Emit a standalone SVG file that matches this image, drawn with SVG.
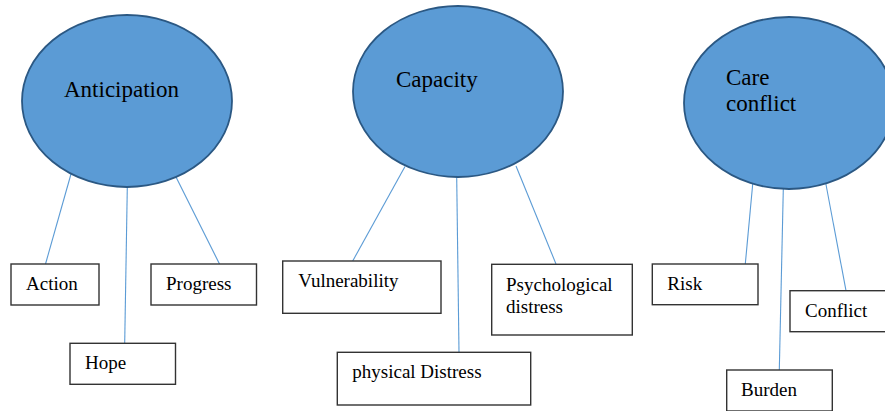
<svg xmlns="http://www.w3.org/2000/svg" width="885" height="411" viewBox="0 0 885 411">
<style>
.ell{fill:#5b9bd5;stroke:#2b5883;stroke-width:1.8}
.box{fill:#fff;stroke:#333;stroke-width:1.4}
.big{font-family:"Liberation Serif","Times New Roman",serif;font-size:23px;fill:#000}
.sm{font-family:"Liberation Serif","Times New Roman",serif;font-size:19px;fill:#000}
.con line{stroke:#5b9bd5;stroke-width:1.1}
</style>
<rect width="885" height="411" fill="#fff"/>
<g id="connectors" class="con">
<line x1="71" y1="174" x2="45.5" y2="264"/>
<line x1="127.3" y1="187" x2="124.7" y2="343"/>
<line x1="176" y1="177" x2="219.5" y2="264"/>
<line x1="405" y1="166.5" x2="352.7" y2="261"/>
<line x1="456.7" y1="177" x2="459" y2="352"/>
<line x1="516" y1="166" x2="556" y2="264"/>
<line x1="752.7" y1="184" x2="745.3" y2="264"/>
<line x1="783.3" y1="189" x2="779.3" y2="370"/>
<line x1="825.7" y1="183" x2="846" y2="290.7"/>
</g>
<g id="anticipation">
<ellipse class="ell" cx="127" cy="101" rx="105" ry="86"/>
<text class="big" x="64" y="97">Anticipation</text>
</g>
<g id="capacity">
<ellipse class="ell" cx="458" cy="91.5" rx="105" ry="85.5"/>
<text class="big" x="396" y="87">Capacity</text>
</g>
<g id="care-conflict">
<ellipse class="ell" cx="789" cy="103" rx="105" ry="86"/>
<text class="big" x="726" y="85">Care</text>
<text class="big" x="726" y="111">conflict</text>
</g>
<g id="action">
<rect class="box" x="11" y="264" width="88" height="41"/>
<text class="sm" x="26" y="290">Action</text>
</g>
<g id="progress">
<rect class="box" x="151" y="264" width="105.5" height="41"/>
<text class="sm" x="166" y="290">Progress</text>
</g>
<g id="hope">
<rect class="box" x="70" y="343.3" width="105.5" height="41"/>
<text class="sm" x="85" y="369">Hope</text>
</g>
<g id="vulnerability">
<rect class="box" x="282.7" y="261" width="158.3" height="52.3"/>
<text class="sm" x="298.3" y="287">Vulnerability</text>
</g>
<g id="psychological-distress">
<rect class="box" x="491.7" y="264.3" width="140.6" height="70.7"/>
<text class="sm" x="506" y="291">Psychological</text>
<text class="sm" x="506" y="312.5">distress</text>
</g>
<g id="physical-distress">
<rect class="box" x="337.3" y="352.3" width="193.4" height="52.7"/>
<text class="sm" x="352.3" y="378">physical Distress</text>
</g>
<g id="risk">
<rect class="box" x="652.3" y="264" width="105.7" height="40.7"/>
<text class="sm" x="667.3" y="290">Risk</text>
</g>
<g id="conflict">
<rect class="box" x="790" y="290.7" width="105" height="41"/>
<text class="sm" x="805" y="316.7">Conflict</text>
</g>
<g id="burden">
<rect class="box" x="726.7" y="370" width="105.6" height="41"/>
<text class="sm" x="741" y="396">Burden</text>
</g>
</svg>
